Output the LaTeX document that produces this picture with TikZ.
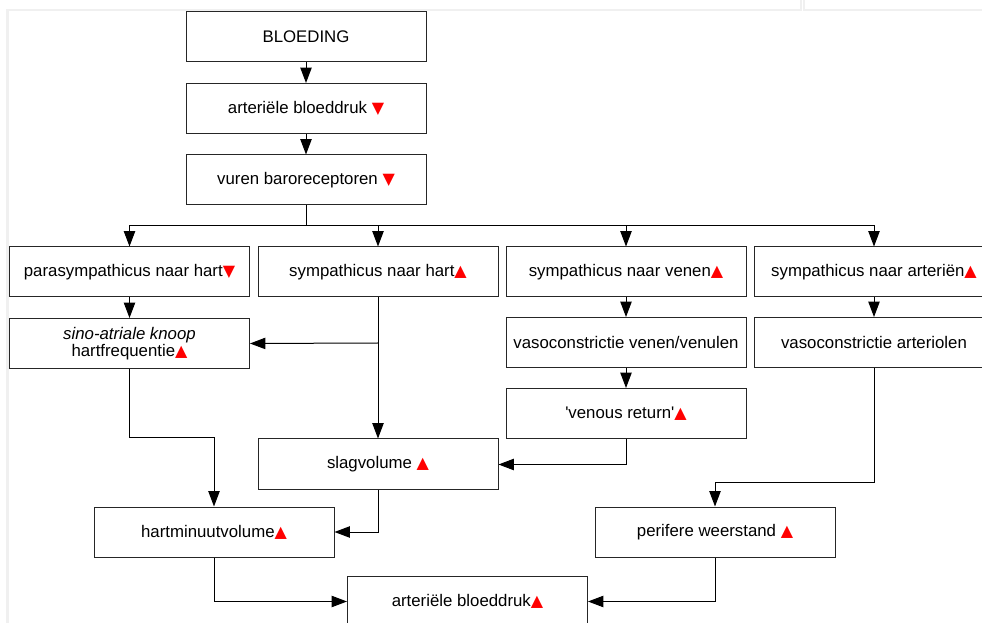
\documentclass[tikz,border=0pt]{standalone}
\usepackage{fontspec}
\setmainfont{Liberation Sans}
\newfontfamily\symbfont{DejaVu Sans}
\usetikzlibrary{arrows.meta,positioning}

\newcommand{\upmark}{\textcolor{red}{\symbfont\fontsize{12}{12}\selectfont ▲}}
\newcommand{\downmark}{\textcolor{red}{\symbfont\fontsize{12}{12}\selectfont ▼}}

\begin{document}
\begin{tikzpicture}[x=0.75pt,y=-0.75pt,
    box/.style={draw=black!85,line width=0.75pt,rectangle,minimum width=180pt,minimum height=37.5pt,inner sep=0pt,align=center,font=\fontsize{12.6}{15}\selectfont},
    arr/.style={draw=black,line width=0.75pt,-{Triangle[length=11.5pt,width=8.5pt]}},
    lin/.style={draw=black,line width=0.75pt}]
  \useasboundingbox (0,0) rectangle (982,623);
  \draw[gray!12,line width=1.8pt] (7.5,623) -- (7.5,10) -- (801,10) -- (801,0);
  \draw[gray!12,line width=1.8pt] (804,0) -- (804,10) -- (982,10);
  \node[box] (bloeding) at (306,37) {BLOEDING};
  \node[box] (abdown) at (306,108.5) {arteriële bloeddruk \downmark};
  \node[box] (baro) at (306,180) {vuren baroreceptoren \downmark};
  \node[box] (para) at (129.5,272) {parasympathicus naar hart\downmark};
  \node[box] (symhart) at (378,272) {sympathicus naar hart\upmark};
  \node[box] (symven) at (626,272) {sympathicus naar venen\upmark};
  \node[box] (symart) at (874,272) {sympathicus naar arteriën\upmark};
  \node[box] (sino) at (129.5,343.5) {\textit{sino-atriale knoop}\\[-2pt]hartfrequentie\upmark};
  \node[box] (vasoven) at (626,342.5) {vasoconstrictie venen/venulen};
  \node[box] (vasoart) at (874,342.5) {vasoconstrictie arteriolen};
  \node[box] (venret) at (626,413.5) {\textquotesingle venous return\textquotesingle\upmark};
  \node[box,minimum height=38.25pt] (slag) at (378,464.5) {slagvolume \upmark};
  \node[box] (hmv) at (214,532) {hartminuutvolume\upmark};
  \node[box] (perif) at (715,532) {perifere weerstand \upmark};
  \node[box] (abup) at (467.5,601.5) {arteriële bloeddruk\upmark};
  \coordinate (split) at (306,226);
  \coordinate (hartsplit) at (378,343);
  \coordinate (sinobend) at (214,438);
  \coordinate (artbend) at (715,483);
  \draw[arr] (bloeding) -- (abdown);
  \draw[arr] (abdown) -- (baro);
  \draw[lin] (baro) -- (split);
  \foreach \n in {para,symhart,symven,symart} {
    \draw[arr] (split) -| (\n.north);
  }
  \draw[arr] (para) -- (sino);
  \draw[arr] (symhart) -- (slag);
  \draw[arr] (hartsplit) -- (sino.east);
  \draw[arr] (symven) -- (vasoven);
  \draw[arr] (vasoven) -- (venret);
  \draw[arr] (venret.south) |- (slag.east);
  \draw[arr] (symart) -- (vasoart);
  \draw[arr] (vasoart.south) |- (artbend) -- (perif.north);
  \draw[arr] (sino.south) |- (sinobend) -- (hmv.north);
  \draw[arr] (slag.south) |- (hmv.east);
  \draw[arr] (hmv.south) |- (abup.west);
  \draw[arr] (perif.south) |- (abup.east);
\end{tikzpicture}
\end{document}
